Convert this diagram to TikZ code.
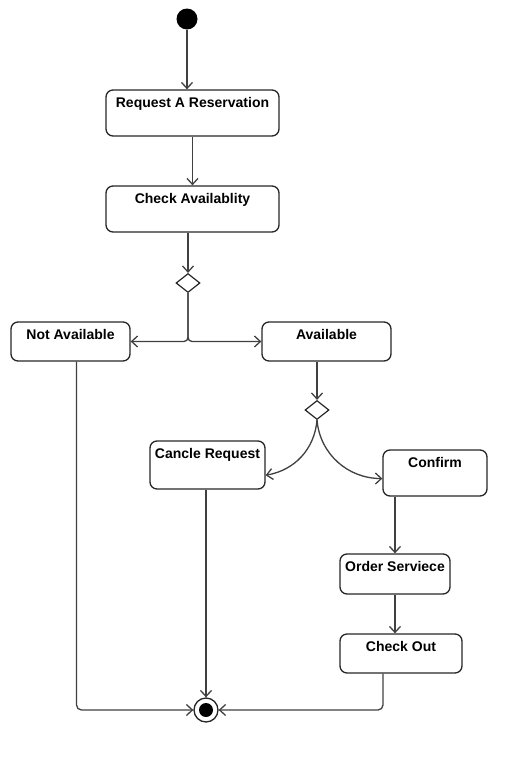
\documentclass[tikz,border=0pt]{standalone}
\usepackage{fontspec}
\setmainfont{Liberation Sans}
\usetikzlibrary{arrows.meta,shapes.geometric}

\begin{document}
\begin{tikzpicture}[x=1pt, y=-1pt,
		act/.style={draw=black!85, line width=1.3pt, rounded corners=7, inner sep=3, text height=14,
			font=\bfseries\fontsize{14}{16}\selectfont},
		flow/.style={draw=black!75, line width=1.3pt, -{Straight Barb[length=6pt, width=11pt]}},
		choice/.style={draw=black!85, line width=1.2pt, diamond, minimum width=24, minimum height=19, inner sep=0}]
			\useasboundingbox (0, 0) rectangle (530, 763);

			\draw (187, 19) 	node[circle, fill=black, minimum size=21, inner sep=0] 	(init) 	{};
			\draw (192.5, 113) 	node[act, minimum width=173, text depth=26] 	(req) 	{Request A Reservation};
			\draw (192.5, 209) 	node[act, minimum width=173, text depth=26] 	(chk) 	{Check Availablity};
			\draw (188, 283) 	node[choice] 	(dia1) 	{};
			\draw (70.5, 341.5) 	node[act, minimum width=119, text depth=19] 	(nav) 	{Not Available};
			\draw (326.5, 341.5) 	node[act, minimum width=129, text depth=19] 	(av) 	{Available};
			\draw (317, 410) 	node[choice] 	(dia2) 	{};
			\draw (207.5, 465) 	node[act, minimum width=115, text depth=28] 	(cnl) 	{Cancle Request};
			\draw (435, 473) 	node[act, minimum width=104, text depth=26] 	(cnf) 	{Confirm};
			\draw (395, 574) 	node[act, minimum width=110, text depth=20] 	(ord) 	{Order Serviece};
			\draw (401, 653.5) 	node[act, minimum width=122, text depth=19] 	(out) 	{Check Out};
			\draw (206, 710) 	node[circle, draw=black!85, line width=1.3pt, fill=white, minimum size=24, inner sep=0] 	(fin) 	{};
			\fill (fin.center) circle (7);

			\draw[flow] (init) -- (init |- req.north);
			\draw[flow] (req) -- (chk);
			\draw[flow] (chk.south -| dia1) -- (dia1.north);
			\draw[flow, rounded corners=4] (dia1.south) |- (nav);
			\draw[flow, rounded corners=4] (dia1.south) |- (av);
			\draw[flow] (av.south -| dia2) -- (dia2.north);
			\draw[flow] (dia2.south) to[out=-95, in=10] (cnl.-10);
			\draw[flow] (dia2.south) to[out=-85, in=180] (cnf.186);
			\draw[flow] (ord.north |- cnf.south) -- (ord.north);
			\draw[flow] (ord.south) -- (ord.south |- out.north);
			\draw[flow] (cnl.south -| fin) -- (fin.north);
			\draw[flow, rounded corners=5] ([xshift=6]nav.south) |- (fin.west);
			\draw[flow, rounded corners=5] ([xshift=-18]out.south) |- (fin.east);
		\end{tikzpicture}
\end{document}
